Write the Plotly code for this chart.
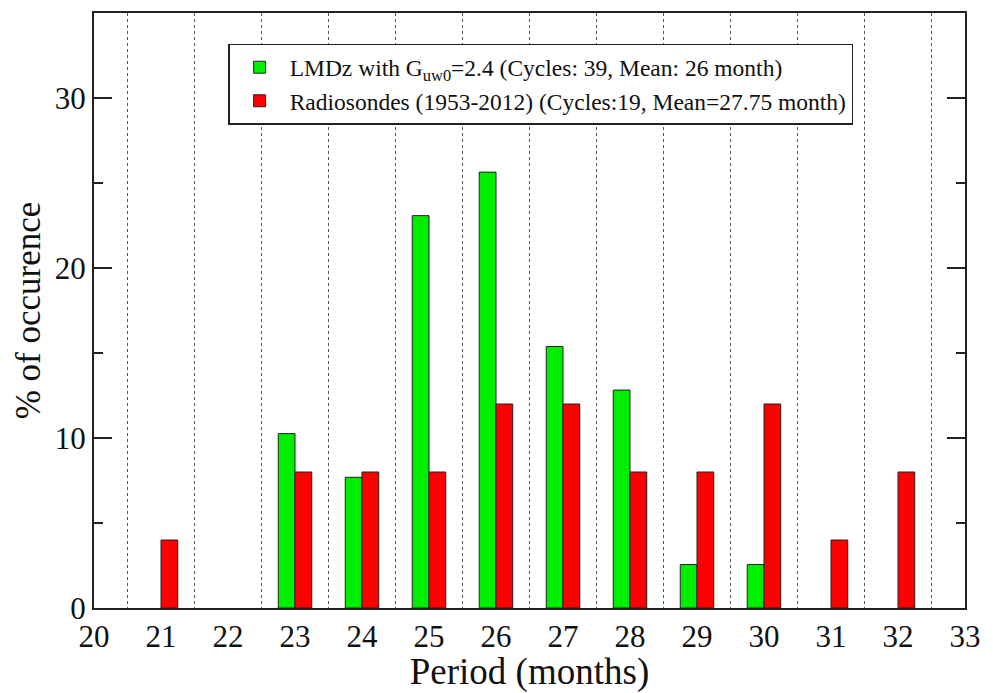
import plotly.graph_objects as go

periods_lmdz = [23, 24, 25, 26, 27, 28, 29, 30]
pct_lmdz = [10.26, 7.69, 23.08, 25.64, 15.38, 12.82, 2.56, 2.56]

periods_radio = [21, 23, 24, 25, 26, 27, 28, 29, 30, 31, 32]
pct_radio = [4, 8, 8, 8, 12, 12, 8, 8, 12, 4, 8]

x_ticks = list(range(20, 34))
y_ticks = [0, 10, 20, 30]

name_lmdz = "LMDz with G<sub>uw0</sub>=2.4 (Cycles: 39, Mean: 26 month)"
name_radio = "Radiosondes (1953-2012) (Cycles:19, Mean=27.75 month)"

FONT = "Times New Roman, Liberation Serif, DejaVu Serif, serif"

fig = go.Figure()
fig.add_trace(go.Bar(x=periods_lmdz, y=pct_lmdz, name=name_lmdz,
                     marker=dict(color="#00ee00", line=dict(color="#222222", width=1))))
fig.add_trace(go.Bar(x=periods_radio, y=pct_radio, name=name_radio,
                     marker=dict(color="#ff0000", line=dict(color="#222222", width=1))))

fig.update_layout(
    width=993, height=693,
    margin=dict(l=94, r=28, t=11, b=75),
    paper_bgcolor="white", plot_bgcolor="white",
    barmode="group", bargap=0.5, bargroupgap=0,
    font=dict(family=FONT, color="#111111"),
    showlegend=True,
    legend=dict(x=0.154, y=0.948, xanchor="left", yanchor="top",
                bgcolor="white", bordercolor="#222222", borderwidth=1.5,
                font=dict(family=FONT, size=23.5, color="#111111"),
                itemwidth=50, tracegroupgap=0),
    xaxis=dict(range=[20, 33], tickmode="array", tickvals=x_ticks,
               ticktext=[str(v) for v in x_ticks], ticks="",
               showgrid=False, zeroline=False,
               showline=True, linecolor="#222222", linewidth=2, mirror=True,
               tickfont=dict(family=FONT, size=31),
               title=dict(text="Period (months)", font=dict(family=FONT, size=37), standoff=2),
               minor=dict(tick0=20.5, dtick=1, showgrid=True, griddash="dot",
                          gridcolor="#555555", gridwidth=1, ticks="")),
    yaxis=dict(range=[0, 35], tickmode="array", tickvals=y_ticks,
               ticks="inside", ticklen=18, tickwidth=2, tickcolor="#222222",
               showgrid=False, zeroline=False,
               showline=True, linecolor="#222222", linewidth=2, mirror="allticks",
               tickfont=dict(family=FONT, size=31),
               title=dict(text="% of occurence", font=dict(family=FONT, size=35), standoff=4),
               minor=dict(tickvals=[5, 15, 25, 35], ticks="inside", ticklen=9,
                          tickwidth=2, tickcolor="#222222", showgrid=False)),
)

fig.write_html("out.html")
